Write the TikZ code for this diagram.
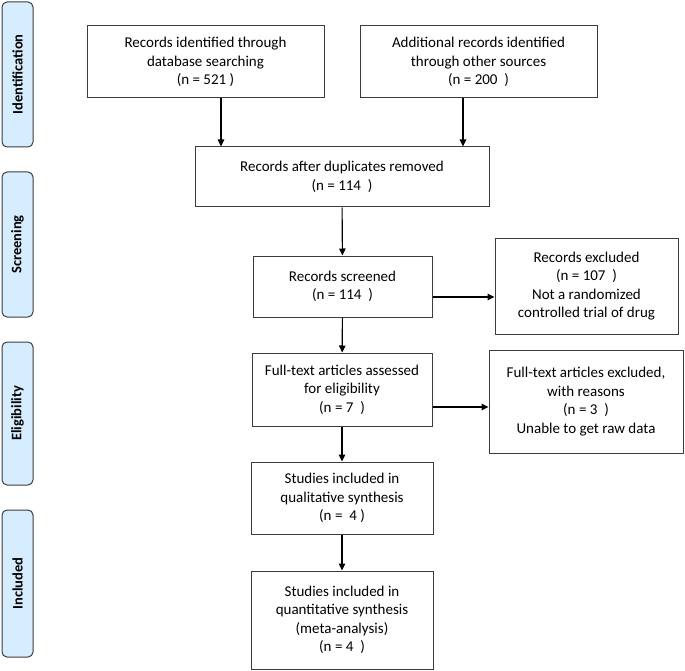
\documentclass[tikz,border=0pt]{standalone}
\usepackage{fontspec}
\setmainfont{Carlito}
\usetikzlibrary{calc,positioning,arrows.meta}

\definecolor{tabblue}{RGB}{214,237,255}
\definecolor{edgegray}{RGB}{60,60,60}

\tikzset{
  flowbox/.style={draw=edgegray, line width=1pt, rectangle, align=center,
    inner sep=2pt, font=\fontsize{15}{18.5}\selectfont},
  phasetab/.style={draw=edgegray, line width=1pt, fill=tabblue, rounded corners=5pt,
    minimum width=31pt, minimum height=145pt, inner sep=0pt},
  phaselabel/.style={rotate=90, font=\fontsize{14.5}{16}\selectfont\bfseries},
  arr/.style={-{Triangle[length=7pt,width=6.5pt]}, line width=1.1pt, black}
}

\begin{document}
\begin{tikzpicture}[x=1pt,y=-1pt]
    \useasboundingbox (0,0) rectangle (685,671);
    % phase tabs on the left
    \node[phasetab] (tabid) at (17.5,74.5) {};
    \node[phaselabel] at (tabid.center) {Identification};
    \node[phasetab] (tabsc) at (17.5,244.5) {};
    \node[phaselabel] at (tabsc.center) {Screening};
    \node[phasetab, minimum height=143pt] (tabel) at (17.5,413.5) {};
    \node[phaselabel] at (tabel.center) {Eligibility};
    \node[phasetab, minimum height=147pt] (tabin) at (17.5,583.5) {};
    \node[phaselabel] at (tabin.center) {Included};

    % boxes
    \node[flowbox, minimum width=237pt, minimum height=72pt] (dbsearch) at (205.5,62)
        {Records identified through\\database searching\\(n = 521 )};
    \node[flowbox, minimum width=237pt, minimum height=72pt] (othersrc) at (478.5,62)
        {Additional records identified\\through other sources\\(n = 200\ \ )};
    \node[flowbox, minimum width=294pt, minimum height=60pt] (dedup) at (342,177)
        {Records after duplicates removed\\(n = 114\ \ )};
    \node[flowbox, minimum width=179pt, minimum height=61pt] (screened) at (342.5,286.5)
        {Records screened\\(n = 114\ \ )};
    \node[flowbox, minimum width=183pt, minimum height=96pt] (excl) at (586.5,286)
        {Records excluded\\(n = 107\ \ )\\Not a randomized\\controlled trial of drug};
    \node[flowbox, minimum width=180pt, minimum height=73pt] (fulltext) at (342,389.5)
        {Full-text articles assessed\\for eligibility\\(n = 7\ \ )};
    \node[flowbox, minimum width=194pt, minimum height=103pt] (ftexcl) at (586,401.5)
        {Full-text articles excluded,\\with reasons\\(n = 3\ \ )\\Unable to get raw data};
    \node[flowbox, minimum width=182pt, minimum height=72pt] (quali) at (342,498)
        {Studies included in\\qualitative synthesis\\(n =\ \ 4 )};
    \node[flowbox, minimum width=182pt, minimum height=98pt] (quanti) at (342,620)
        {Studies included in\\quantitative synthesis\\(meta-analysis)\\(n = 4\ \ )};

    % connectors
    \coordinate (a1) at ($(dbsearch.south)+(15.5,0)$);
    \coordinate (a2) at ($(othersrc.south)+(-15.5,0)$);
    \draw[arr] (a1) -- (a1 |- dedup.north);
    \draw[arr] (a2) -- (a2 |- dedup.north);
    \draw[arr] (dedup) -- (screened);
    \draw[arr] (screened) -- (fulltext);
    \draw[arr] (fulltext) -- (quali);
    \draw[arr] (quali) -- (quanti);
    \coordinate (b1) at ($(screened.east)+(0,10.5)$);
    \coordinate (b2) at ($(fulltext.east)+(0,17.5)$);
    \draw[arr] (b1) -- (b1 -| excl.west);
    \draw[arr] (b2) -- (b2 -| ftexcl.west);
\end{tikzpicture}
\end{document}
